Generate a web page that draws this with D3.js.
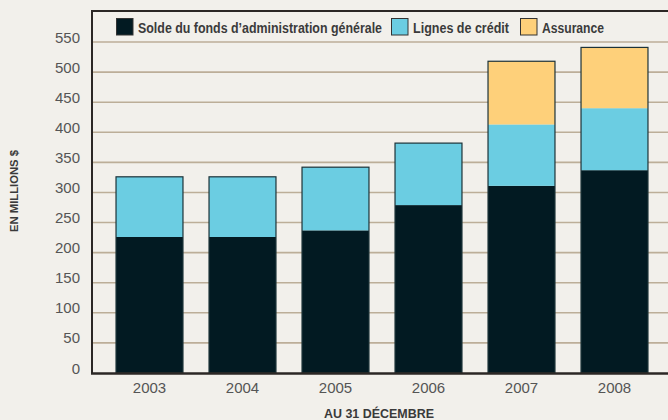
<!DOCTYPE html>
<html lang="fr">

<head>
  <meta charset="UTF-8">
  <script src="https://d3js.org/d3.v7.min.js" charset="utf-8"></script>
  <title>Chart</title>
  <style>
    body { margin: 0; background: #f2f0eb; }
    text { font-family: "Liberation Sans", Arial, sans-serif; }
  </style>
</head>

<body>
  <script type="text/javascript">

    // data (millions $)
    var years = ["2003", "2004", "2005", "2006", "2007", "2008"];
    var solde = [226, 226, 237, 279, 311, 337];
    var lignes = [100, 100, 105, 103, 102, 103];
    var assurance = [0, 0, 0, 0, 105, 101];
    var seriesNames = ["Solde du fonds d\u2019administration générale", "Lignes de crédit", "Assurance"];
    var seriesColors = ["#021a22", "#6bcde2", "#fed07a"];
    var yTicks = [0, 50, 100, 150, 200, 250, 300, 350, 400, 450, 500, 550];

    var W = 668, H = 420;
    var plotLeft = 92, plotTop = 11, plotBottom = 373;

    var svg = d3.select("body").append("svg")
      .attr("width", W)
      .attr("height", H);

    svg.append("rect").attr("width", W).attr("height", H).attr("fill", "#f2f0eb");

    var x = d3.scaleBand()
      .domain(years)
      .range([103, 661])
      .paddingInner(0.28)
      .paddingOuter(0.14);

    var y = d3.scaleLinear()
      .domain([0, 550])
      .range([plotBottom, 42]);

    // gridlines
    svg.append("g")
      .selectAll("line")
      .data(yTicks.slice(1))
      .enter()
      .append("line")
      .attr("x1", plotLeft)
      .attr("x2", W)
      .attr("y1", function (d) { return y(d); })
      .attr("y2", function (d) { return y(d); })
      .attr("stroke", "#bcae98")
      .attr("stroke-width", 1.6);

    // stacked bars
    var table = years.map(function (yr, i) {
      return { year: yr, s0: solde[i], s1: lignes[i], s2: assurance[i] };
    });
    var stack = d3.stack().keys(["s0", "s1", "s2"])(table);

    svg.append("g")
      .selectAll("g")
      .data(stack)
      .enter()
      .append("g")
      .attr("fill", function (d, i) { return seriesColors[i]; })
      .selectAll("rect")
      .data(function (d) { return d; })
      .enter()
      .append("rect")
      .attr("x", function (d) { return x(d.data.year); })
      .attr("width", x.bandwidth())
      .attr("y", function (d) { return y(d[1]); })
      .attr("height", function (d) { return y(d[0]) - y(d[1]); });

    // outline of each whole bar
    svg.append("g")
      .selectAll("rect")
      .data(table)
      .enter()
      .append("rect")
      .attr("x", function (d) { return x(d.year); })
      .attr("width", x.bandwidth())
      .attr("y", function (d) { return y(d.s0 + d.s1 + d.s2); })
      .attr("height", function (d) { return plotBottom - y(d.s0 + d.s1 + d.s2); })
      .attr("fill", "none")
      .attr("stroke", "#1c3238")
      .attr("stroke-width", 1.2);

    // frame
    var frame = svg.append("g").attr("stroke", "#2b2725").attr("fill", "none");
    frame.append("path")
      .attr("d", "M" + W + "," + plotTop + "H" + plotLeft + "V" + plotBottom)
      .attr("stroke-width", 2);
    frame.append("line")
      .attr("x1", plotLeft - 1).attr("x2", W)
      .attr("y1", plotBottom + 0.5).attr("y2", plotBottom + 0.5)
      .attr("stroke-width", 2.5);

    // y tick labels
    svg.append("g")
      .selectAll("text")
      .data(yTicks)
      .enter()
      .append("text")
      .attr("x", 80)
      .attr("y", function (d) { return y(d) + 0.5; })
      .attr("text-anchor", "end")
      .attr("font-size", 15)
      .attr("fill", "#555")
      .text(function (d) { return d; });

    // x tick labels
    svg.append("g")
      .selectAll("text")
      .data(years)
      .enter()
      .append("text")
      .attr("x", function (d) { return x(d) + x.bandwidth() / 2; })
      .attr("y", 392.5)
      .attr("text-anchor", "middle")
      .attr("font-size", 15)
      .attr("fill", "#555")
      .text(function (d) { return d; });

    // axis titles
    svg.append("text")
      .attr("x", 379)
      .attr("y", 418)
      .attr("text-anchor", "middle")
      .attr("font-size", 12)
      .attr("font-weight", "bold")
      .attr("fill", "#3a3a3a")
      .attr("textLength", 110)
      .attr("lengthAdjust", "spacingAndGlyphs")
      .text("AU 31 DÉCEMBRE");
    svg.append("text")
      .attr("transform", "translate(17.5,191) rotate(-90)")
      .attr("text-anchor", "middle")
      .attr("font-size", 11.5)
      .attr("font-weight", "bold")
      .attr("fill", "#3a3a3a")
      .attr("textLength", 82)
      .attr("lengthAdjust", "spacingAndGlyphs")
      .text("EN MILLIONS $");

    // legend
    var legX = [116, 391, 520];
    var legW = [244, 96, 62];
    var leg = svg.append("g")
      .selectAll("g")
      .data(seriesNames)
      .enter()
      .append("g")
      .attr("transform", function (d, i) { return "translate(" + legX[i] + ",18)"; });
    leg.append("rect")
      .attr("x", 0.5).attr("y", 0.5)
      .attr("width", 16.5).attr("height", 16.5)
      .attr("fill", function (d, i) { return seriesColors[i]; })
      .attr("stroke", "#333")
      .attr("stroke-width", 1);
    leg.append("text")
      .attr("x", 22)
      .attr("y", 15.3)
      .attr("font-size", 14)
      .attr("font-weight", "bold")
      .attr("fill", "#3b3b3b")
      .attr("textLength", function (d, i) { return legW[i]; })
      .attr("lengthAdjust", "spacingAndGlyphs")
      .text(function (d) { return d; });

  </script>
</body>

</html>
